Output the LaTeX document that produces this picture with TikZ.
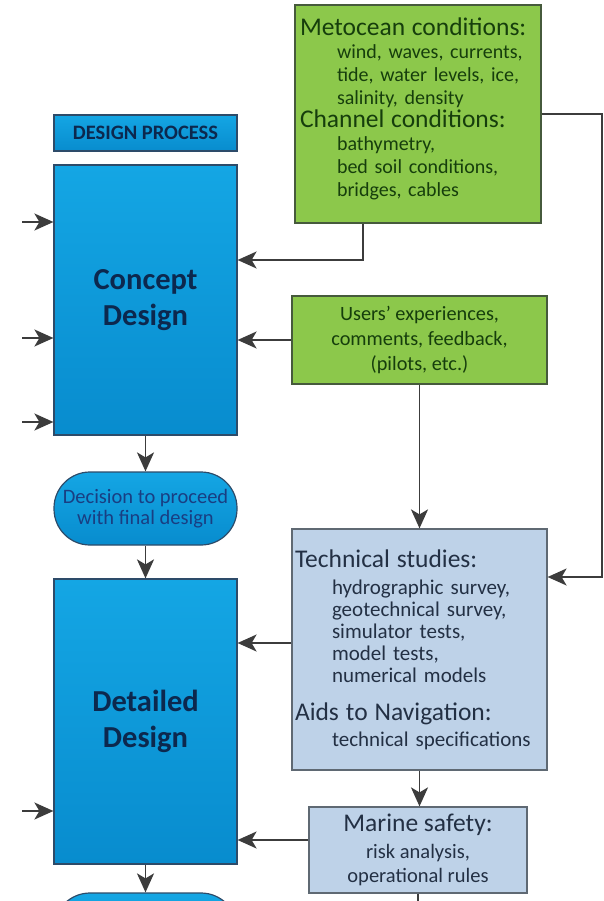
\documentclass[tikz,border=0pt]{standalone}
\usepackage{fontspec}
\setmainfont{Carlito}
\usetikzlibrary{arrows.meta,positioning}
\definecolor{dpblue}{RGB}{20,166,228}
\definecolor{dpbluedark}{RGB}{8,140,206}
\definecolor{dpedge}{RGB}{45,75,105}
\definecolor{dptext}{RGB}{12,40,78}
\definecolor{dpdecide}{RGB}{25,62,130}
\definecolor{ingreen}{RGB}{140,200,75}
\definecolor{ingreenedge}{RGB}{70,90,60}
\definecolor{ingreentext}{RGB}{22,62,12}
\definecolor{stlight}{RGB}{190,210,232}
\definecolor{stedge}{RGB}{95,105,115}
\definecolor{sttext}{RGB}{35,48,68}
\definecolor{arrowgray}{RGB}{60,60,60}
\newcommand{\headfont}{\fontsize{25.5}{26}\selectfont}
\newcommand{\ind}{\hspace*{37pt}}

\begin{document}
\begin{tikzpicture}[x=1pt,y=-1pt,
    flow/.style={-{Stealth[length=19pt,width=17pt,inset=5pt]}, line width=1.8pt, draw=arrowgray},
    link/.style={line width=1.8pt, draw=arrowgray},
    stage/.style={draw=dpedge, line width=1.2pt, top color=dpblue, bottom color=dpbluedark,
      text=dptext, font=\bfseries\fontsize{30.5}{36}\selectfont, align=center,
      minimum width=183pt, inner sep=0pt},
    decide/.style={stage, rounded corners=36pt, minimum height=73pt,
      text=dpdecide, font=\fontsize{20.5}{21}\selectfont},
    input/.style={draw=ingreenedge, line width=1.2pt, fill=ingreen, text=ingreentext,
      font=\fontsize{20}{23}\selectfont, inner xsep=5pt, inner ysep=0pt},
    study/.style={draw=stedge, line width=1.2pt, fill=stlight, text=sttext,
      font=\fontsize{21}{22}\selectfont, inner xsep=3pt, inner ysep=0pt}
  ]
  \useasboundingbox (0,0) rectangle (603,901);

  % design process column
  \node[stage, minimum height=36pt, font=\bfseries\fontsize{20.5}{22}\selectfont] (title) at (145.5,133) {DESIGN PROCESS};
  \node[stage, minimum height=270pt] (concept) at (145.5,300) {Concept\\Design};
  \node[decide] (decision) at (145.5,508.5) {Decision to proceed\\with final design};
  \node[stage, minimum height=285pt] (detailed) at (145.5,721.5) {Detailed\\Design};
  \node[decide] (nextdecision) at (145.5,929.5) {};

  % inputs
  \node[input, text width=236pt, minimum height=218pt, align=left] (meto) at (418,114)
    {{\headfont Metocean conditions:}\\
     \ind wind, waves, currents,\\
     \ind tide, water levels, ice,\\
     \ind salinity, density\\
     {\headfont Channel conditions:}\\
     \ind bathymetry,\\
     \ind bed soil conditions,\\
     \ind bridges, cables\rule[-13pt]{0pt}{13pt}};
  \node[input, minimum width=255pt, minimum height=88pt, align=center,
    font=\fontsize{20.3}{25}\selectfont] (users) at (419.5,340)
    {Users' experiences,\\comments, feedback,\\(pilots, etc.)};

  % studies
  \node[study, text width=249pt, minimum height=241pt, align=left] (tech) at (419.5,649.5)
    {{\headfont Technical studies:}\\[5pt]
     \ind hydrographic survey,\\
     \ind geotechnical survey,\\
     \ind simulator tests,\\
     \ind model tests,\\
     \ind numerical models\\[16pt]
     {\headfont Aids to Navigation:}\\[4pt]
     \ind technical specifications};
  \node[study, minimum width=218pt, minimum height=86pt, align=center,
    font=\fontsize{20.5}{24}\selectfont] (marine) at (418,850)
    {{\fontsize{25.5}{26}\selectfont Marine safety:}\\[3pt]risk analysis,\\operational rules};

  % outside inputs on the left
  \coordinate (cin1) at (22,222);
  \coordinate (cin2) at (22,338);
  \coordinate (cin3) at (22,422);
  \coordinate (din1) at (22,811);
  \draw[flow] (cin1) -- (cin1 -| concept.west);
  \draw[flow] (cin2) -- (cin2 -| concept.west);
  \draw[flow] (cin3) -- (cin3 -| concept.west);
  \draw[flow] (din1) -- (din1 -| detailed.west);

  % main column
  \draw[flow] (concept) -- (decision);
  \draw[flow] (decision) -- (detailed);
  \draw[flow] (detailed) -- (nextdecision);

  % feedback from the boxes on the right
  \coordinate (metodrop) at ([xshift=-55pt]meto.south);
  \draw[flow] (metodrop) |- ([yshift=40pt]concept.east);
  \draw[flow] (meto.east) -- ++(60,0) |- ([yshift=72.5pt]tech.east);
  \draw[flow] (users.west) -- (users.west -| concept.east);
  \draw[flow] (users.south) -- (tech.north);
  \draw[flow] ([yshift=6.5pt]tech.west) -- ([yshift=6.5pt]tech.west -| detailed.east);
  \draw[flow] (tech.south) -- (tech.south |- marine.north);
  \draw[flow] ([yshift=10pt]marine.west) -- ([yshift=10pt]marine.west -| detailed.east);
  \draw[link] (marine.south) -- ++(0,12);
\end{tikzpicture}
\end{document}
